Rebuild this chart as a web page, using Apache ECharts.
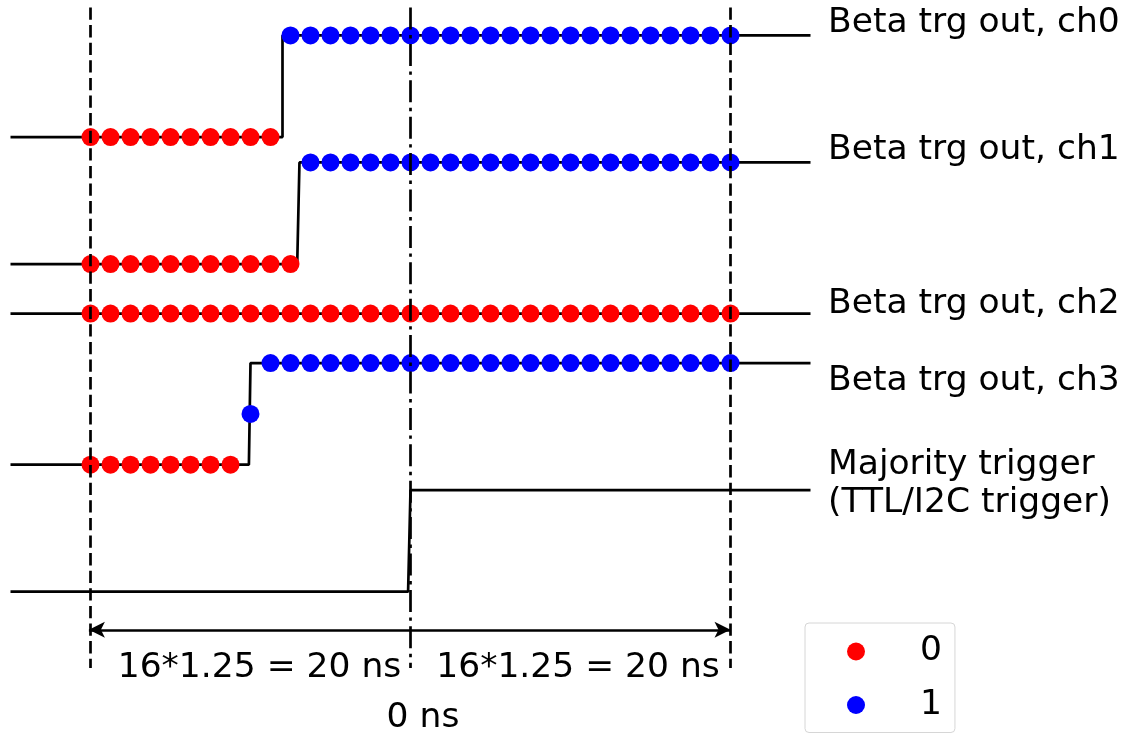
<!DOCTYPE html>
<html>
<head>
<meta charset="utf-8">
<script src="https://cdn.jsdelivr.net/npm/echarts@6/dist/echarts.min.js"></script>
<style>
  html, body { margin: 0; padding: 0; background: #fff; }
  #chart { width: 1124px; height: 734px; }
</style>
</head>
<body>
<div id="chart"></div>
<script>
// ---------------- data ----------------
const sampleTimes = [-20, -18.75, -17.5, -16.25, -15, -13.75, -12.5, -11.25, -10, -8.75, -7.5, -6.25,
  -5, -3.75, -2.5, -1.25, 0, 1.25, 2.5, 3.75, 5, 6.25, 7.5, 8.75, 10, 11.25, 12.5, 13.75, 15, 16.25,
  17.5, 18.75, 20];

const channelNames = ['Beta trg out, ch0', 'Beta trg out, ch1', 'Beta trg out, ch2', 'Beta trg out, ch3'];
const ch0Bits = [0,0,0,0,0,0,0,0,0,0, 1,1,1,1,1,1,1,1,1,1,1,1,1,1,1,1,1,1,1,1,1,1,1];
const ch1Bits = [0,0,0,0,0,0,0,0,0,0,0, 1,1,1,1,1,1,1,1,1,1,1,1,1,1,1,1,1,1,1,1,1,1];
const ch2Bits = [0,0,0,0,0,0,0,0,0,0,0,0,0,0,0,0,0,0,0,0,0,0,0,0,0,0,0,0,0,0,0,0,0];
const ch3Bits = [0,0,0,0,0,0,0,0, 0.5, 1,1,1,1,1,1,1,1,1,1,1,1,1,1,1,1,1,1,1,1,1,1,1,1];
const channelBits = [ch0Bits, ch1Bits, ch2Bits, ch3Bits];

const lowLevels  = [3.58, 2.58, 2.19, 1.0];
const highLevels = [4.38, 3.38, 2.99, 1.8];
const edgeStart  = [-8.0, -7.08, null, -10.1];
const edgeEnd    = [-8.0, -6.94, null, -10.0];

const majorityName = 'Majority trigger\n(TTL/I2C trigger)';
const majorityLow = 0;
const majorityHigh = 0.8;
const majorityEdgeStart = -0.15;
const majorityEdgeEnd = 0;

const traceStart = -25;
const traceEnd = 25;
const windowLines = [-20, 0, 20];
const windowSpan = [-0.6, 4.6];
const arrowLevel = -0.30;
const spanText = '16*1.25 = 20 ns';
const zeroText = '0 ns';
const legendNames = ['0', '1'];

// ---------------- build ----------------
function wave(low, high, e0, e1) {
  if (e0 === null) return [[traceStart, low], [traceEnd, low]];
  return [[traceStart, low], [e0, low], [e1, high], [traceEnd, high]];
}

const FONT = 'DejaVu Sans';
const FS = 34.5;
const LW = 2.7;

const series = [];
const waves = channelNames.map((n, i) => wave(lowLevels[i], highLevels[i], edgeStart[i], edgeEnd[i]));
waves.push(wave(majorityLow, majorityHigh, majorityEdgeStart, majorityEdgeEnd));
waves.forEach((d, i) => {
  series.push({
    type: 'line', name: 'wave' + i, data: d, symbol: 'none', silent: true, z: 1,
    lineStyle: { color: '#000', width: LW }, animation: false
  });
});

const zeros = [], ones = [];
channelBits.forEach((bits, ci) => {
  bits.forEach((b, k) => {
    const y = lowLevels[ci] + b * (highLevels[ci] - lowLevels[ci]);
    (b >= 0.5 ? ones : zeros).push([sampleTimes[k], y]);
  });
});
series.push({
  type: 'scatter', name: legendNames[0], data: zeros, symbolSize: 18, z: 2,
  itemStyle: { color: '#ff0000', opacity: 1 }, animation: false
});
series.push({
  type: 'scatter', name: legendNames[1], data: ones, symbolSize: 18, z: 2,
  itemStyle: { color: '#0000ff', opacity: 1 }, animation: false
});

// vertical window lines
windowLines.forEach((x) => {
  series.push({
    type: 'line', name: 'v' + x, data: [[x, windowSpan[1]], [x, windowSpan[0]]], symbol: 'none',
    silent: true, z: 3, animation: false,
    lineStyle: { color: '#000', width: LW, type: x === 0 ? [22, 5.5, 3.4, 5.5] : [12.3, 5.3] }
  });
});

// double arrow
series.push({
  type: 'line', name: 'arrow', data: [], silent: true, animation: false,
  markLine: {
    silent: true, animation: false, symbol: ['arrow', 'arrow'], symbolSize: [12, 16],
    label: { show: false },
    lineStyle: { color: '#000', width: LW, type: 'solid' },
    data: [[{ coord: [windowLines[0] - 0.1, arrowLevel] }, { coord: [windowLines[2], arrowLevel] }]]
  }
});

// text annotations
const txt = { fontFamily: FONT, fontSize: FS, color: '#000', textBorderWidth: 0, textBorderColor: 'transparent', textShadowBlur: 0 };
const labelYs = [4.474, 3.478, 2.269, 1.659];
const annot = [];
channelNames.forEach((n, i) => {
  annot.push({ value: [traceEnd, labelYs[i]], label: Object.assign({ formatter: n, align: 'left', offset: [17.5, 0] }, txt) });
});
annot.push({ value: [traceEnd, 0.848], label: Object.assign({ formatter: majorityName, align: 'left', offset: [17.5, 0], lineHeight: 38 }, txt) });
annot.push({ value: [-9.44, -0.60], label: Object.assign({ formatter: spanText, align: 'center' }, txt) });
annot.push({ value: [10.47, -0.60], label: Object.assign({ formatter: spanText, align: 'center' }, txt) });
annot.push({ value: [0.78, -0.996], label: Object.assign({ formatter: zeroText, align: 'center' }, txt) });
series.push({
  type: 'scatter', name: 'annot', data: annot, symbolSize: 0, silent: true, clip: false, z: 4,
  animation: false,
  itemStyle: { color: '#000', opacity: 1 },
  label: { show: true, position: 'inside', verticalAlign: 'middle', color: '#000' }
});

const chart = echarts.init(document.getElementById('chart'), null, { renderer: 'canvas' });
chart.setOption({
  animation: false,
  backgroundColor: '#fff',
  grid: { left: 10.5, top: 1.15, width: 800, height: 717.55, containLabel: false },
  xAxis: { type: 'value', min: -25, max: 25, show: false },
  yAxis: { type: 'value', min: -1, max: 4.65, show: false },
  legend: {
    data: legendNames, left: 805, top: 623, width: 160, height: 200, orient: 'vertical', icon: 'circle',
    itemWidth: 18, itemHeight: 18, itemGap: 18.5,
    padding: [11, 13, 10, 42],
    borderColor: '#d6d6d6', borderWidth: 1, borderRadius: 4, backgroundColor: '#fff',
    textStyle: { fontFamily: FONT, fontSize: FS, color: '#000', padding: [0, 0, 0, 50] },
    selectedMode: false
  },
  series: series
});
</script>
</body>
</html>
